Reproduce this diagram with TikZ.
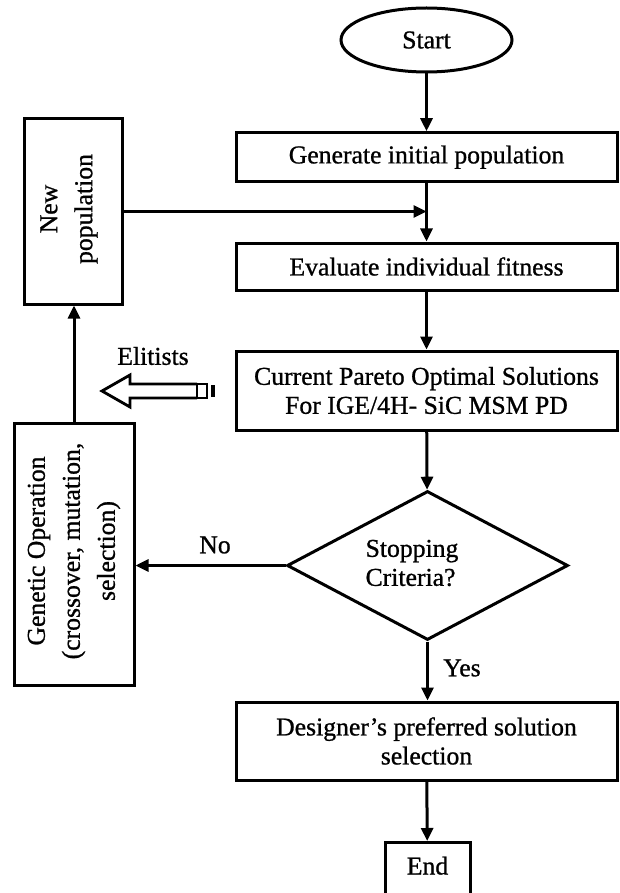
\documentclass[tikz,border=0pt]{standalone}
\usepackage{fontspec}
\setmainfont{Liberation Serif}[FakeBold=0.9,AutoFakeBold=0.9]
\usetikzlibrary{shapes.geometric,arrows.meta}
\begin{document}
\begin{tikzpicture}[x=1pt,y=-1pt,
  every node/.style={font=\fontsize{25.7}{29}\selectfont\bfseries},
  box/.style={draw, line width=3pt, rectangle, minimum width=381, inner sep=0pt, align=center},
  vbox/.style={draw, line width=3pt, rectangle, inner sep=0pt},
  vtext/.style={rotate=90, align=center, inner sep=0pt, font=\fontsize{25.7}{35}\selectfont\bfseries},
  arr/.style={line width=3pt, -{Triangle[length=13pt,width=12pt]}},
  lbl/.style={inner sep=0pt}
]
\useasboundingbox (0,0) rectangle (619,893);
\clip (0,0) rectangle (619,893);

\node[ellipse, draw, line width=3pt, minimum width=171, minimum height=64, inner sep=0pt] (start) at (426.5,40) {Start};
\node[box, minimum height=49] (gen) at (426.5,157.2) {Generate initial population};
\node[box, minimum height=47] (eval) at (426.5,266.5) {Evaluate individual fitness};
\node[box, minimum height=79] (cur) at (426.5,390.5) {Current Pareto Optimal Solutions\\For IGE/4H- SiC MSM PD};
\node[diamond, draw, line width=3pt, minimum width=281, minimum height=149, inner sep=0pt] (dia) at (427.5,565.5) {};
\node[lbl, align=left] (diat) at (412,563) {Stopping\\Criteria?};
\node[box, minimum height=78] (des) at (426.5,741) {Designer’s preferred solution\\selection};
\node[vbox, anchor=north, minimum width=85, inner ysep=15pt, text height=17pt, text depth=20pt] (endn) at (427.5,841) {End};

\node[vbox, minimum width=98, minimum height=185] (np) at (73,211.5) {};
\node[vtext] (npt) at (69,209) {New\\population};
\node[vbox, minimum width=120, minimum height=262] (ga) at (74,554) {};
\node[vtext] (gat) at (74,551) {Genetic Operation\\(crossover, mutation,\\selection)};

\node[lbl] (elit) at (153,356) {Elitists};
\node[lbl] (no) at (215,545) {No};
\node[lbl] (yes) at (462,668) {Yes};

\draw[line width=2.8pt, line join=miter] (197,384) -- (130,384) -- (130,375) -- (102,391) -- (130,407) -- (130,398) -- (197,398);
\draw[line width=2.8pt] (197,384) rectangle (207,398);
\fill (211,385) rectangle (215,397);

\coordinate (join) at (426.5,211.5);
\draw[arr] (start) -- (gen);
\draw[arr] (gen) -- (eval);
\draw[arr] (np.east) -- (join);
\draw[arr] (eval) -- (cur);
\draw[arr] (cur) -- (dia);
\draw[arr] (dia.west) -- (dia.west -| ga.east);
\draw[arr] (ga.north) -- (ga.north |- np.south);
\draw[arr] (dia.south) -- (dia.south |- des.north);
\draw[arr] (des) -- (endn);
\end{tikzpicture}
\end{document}
